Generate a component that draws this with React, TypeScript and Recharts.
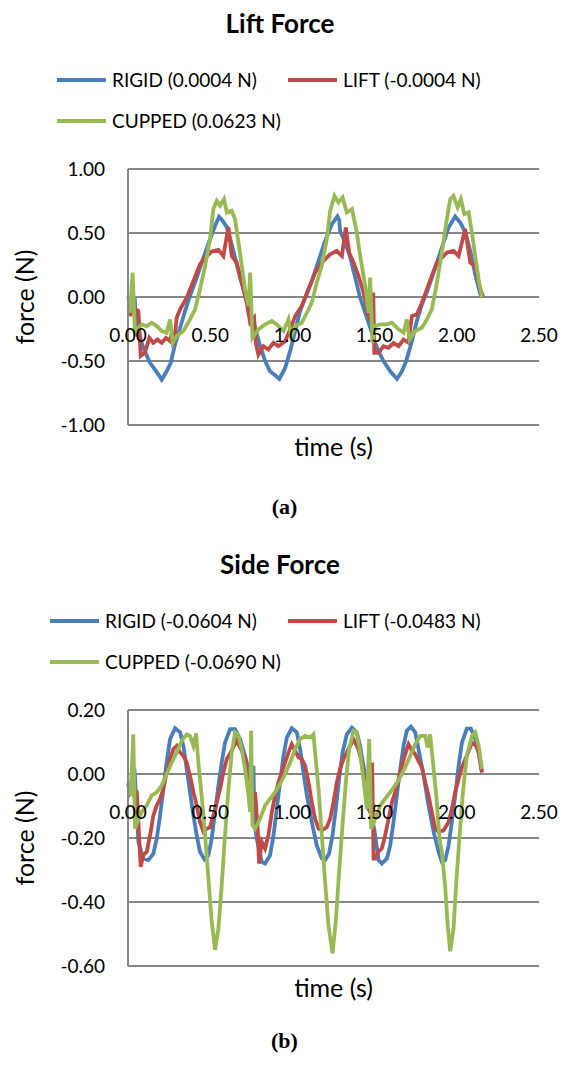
import React from 'react';
import { LineChart, Line, XAxis, YAxis, CartesianGrid, Legend } from 'recharts';

const COLORS = ['#4A7EBB', '#BE4B48', '#98B954'];
const FONT = 'Lato, "Open Sans", sans-serif';

const timeTicks = [0, 0.5, 1, 1.5, 2, 2.5];
const liftTicks = [-1, -0.5, 0, 0.5, 1];
const sideTicks = [-0.6, -0.4, -0.2, 0, 0.2];

const liftNames = ['RIGID (0.0004 N)', 'LIFT (-0.0004 N)', 'CUPPED (0.0623 N)'];
const sideNames = ['RIGID (-0.0604 N)', 'LIFT (-0.0483 N)', 'CUPPED (-0.0690 N)'];

// [time (s), force (N)]
const liftRigid = [
  [0, -0.11], [0.022, -0.084], [0.041, -0.005], [0.047, -0.162], [0.063, -0.266], [0.093, -0.397],
  [0.134, -0.514], [0.164, -0.567], [0.185, -0.606], [0.205, -0.645], [0.235, -0.58], [0.26, -0.514],
  [0.286, -0.371], [0.317, -0.24], [0.347, -0.11], [0.377, 0.008], [0.418, 0.151], [0.459, 0.308],
  [0.499, 0.452], [0.53, 0.556], [0.554, 0.627], [0.576, 0.595], [0.6, 0.548], [0.625, 0.439],
  [0.651, 0.308], [0.682, 0.151], [0.712, 0.021], [0.743, -0.11], [0.773, -0.24], [0.804, -0.384],
  [0.834, -0.501], [0.864, -0.58], [0.895, -0.611], [0.921, -0.64], [0.956, -0.554], [0.986, -0.423],
  [1.017, -0.266], [1.047, -0.11], [1.078, -0.005], [1.118, 0.125], [1.159, 0.282], [1.199, 0.439],
  [1.24, 0.569], [1.274, 0.629], [1.285, 0.6], [1.29, 0.517], [1.321, 0.426], [1.352, 0.308],
  [1.382, 0.151], [1.412, -0.005], [1.453, -0.162], [1.483, -0.279], [1.514, -0.397], [1.554, -0.501],
  [1.595, -0.58], [1.636, -0.64], [1.666, -0.58], [1.692, -0.501], [1.727, -0.345], [1.757, -0.188],
  [1.788, -0.057], [1.828, 0.073], [1.869, 0.23], [1.909, 0.386], [1.95, 0.543], [1.99, 0.629],
  [2.021, 0.582], [2.052, 0.504], [2.082, 0.36], [2.112, 0.178], [2.143, 0.021], [2.155, -0.005],
];

const liftLift = [
  [0, -0.123], [0.016, -0.136], [0.032, -0.11], [0.049, -0.097], [0.063, -0.11], [0.069, -0.24],
  [0.077, -0.46], [0.103, -0.436], [0.13, -0.319], [0.154, -0.358], [0.179, -0.332], [0.205, -0.358],
  [0.231, -0.319], [0.256, -0.345], [0.266, -0.28], [0.28, -0.37], [0.296, -0.162], [0.317, -0.097],
  [0.357, -0.005], [0.398, 0.125], [0.438, 0.256], [0.469, 0.308], [0.509, 0.355], [0.55, 0.368],
  [0.58, 0.32], [0.611, 0.548], [0.631, 0.32], [0.661, 0.269], [0.692, 0.112], [0.722, -0.044],
  [0.743, -0.2], [0.767, -0.162], [0.779, -0.37], [0.793, -0.45], [0.824, -0.384], [0.854, -0.41],
  [0.885, -0.358], [0.915, -0.384], [0.956, -0.345], [0.986, -0.253], [1.017, -0.149], [1.057, -0.07],
  [1.098, 0.06], [1.138, 0.19], [1.179, 0.269], [1.23, 0.334], [1.27, 0.36], [1.301, 0.32],
  [1.325, 0.543], [1.345, 0.347], [1.372, 0.269], [1.402, 0.165], [1.433, 0.034], [1.463, -0.149],
  [1.483, -0.188], [1.492, 0.034], [1.498, -0.436], [1.524, -0.436], [1.554, -0.384], [1.585, -0.397],
  [1.615, -0.358], [1.646, -0.384], [1.676, -0.332], [1.706, -0.358], [1.727, -0.149], [1.757, -0.136],
  [1.788, -0.044], [1.818, 0.06], [1.848, 0.165], [1.879, 0.269], [1.909, 0.308], [1.94, 0.347],
  [1.98, 0.36], [2.011, 0.32], [2.051, 0.53], [2.082, 0.269], [2.112, 0.243], [2.143, 0.06],
  [2.163, -0.005],
];

const liftCupped = [
  [0.002, 0.008], [0.012, -0.123], [0.028, 0.19], [0.043, -0.305], [0.053, -0.253], [0.083, -0.214],
  [0.114, -0.227], [0.144, -0.201], [0.175, -0.227], [0.205, -0.266], [0.235, -0.279], [0.256, -0.175],
  [0.272, -0.358], [0.296, -0.305], [0.337, -0.266], [0.377, -0.175], [0.408, -0.097], [0.438, 0.06],
  [0.469, 0.243], [0.499, 0.452], [0.519, 0.687], [0.54, 0.752], [0.56, 0.713], [0.584, 0.765],
  [0.601, 0.661], [0.631, 0.674], [0.651, 0.608], [0.672, 0.426], [0.692, 0.243], [0.712, 0.06],
  [0.733, -0.07], [0.743, 0.19], [0.757, -0.319], [0.793, -0.253], [0.834, -0.214], [0.875, -0.188],
  [0.905, -0.214], [0.946, -0.266], [0.976, -0.175], [0.992, -0.305], [1.017, -0.227], [1.057, -0.201],
  [1.088, -0.123], [1.118, -0.044], [1.148, 0.112], [1.179, 0.243], [1.209, 0.452], [1.23, 0.674],
  [1.256, 0.791], [1.28, 0.739], [1.305, 0.778], [1.331, 0.661], [1.362, 0.687], [1.392, 0.504],
  [1.412, 0.321], [1.443, 0.086], [1.463, -0.123], [1.473, 0.151], [1.487, -0.358], [1.504, -0.227],
  [1.534, -0.214], [1.575, -0.214], [1.605, -0.201], [1.646, -0.253], [1.676, -0.279], [1.696, -0.175],
  [1.713, -0.332], [1.747, -0.266], [1.788, -0.24], [1.818, -0.175], [1.848, -0.097], [1.879, 0.112],
  [1.909, 0.347], [1.936, 0.582], [1.96, 0.765], [1.98, 0.791], [2.005, 0.7], [2.025, 0.765],
  [2.045, 0.648], [2.072, 0.661], [2.092, 0.504], [2.112, 0.321], [2.133, 0.138], [2.153, -0.005],
];

const sideRigid = [
  [0, -0.026], [0.022, -0.036], [0.039, 0.016], [0.047, -0.052], [0.063, -0.212], [0.093, -0.264],
  [0.124, -0.269], [0.154, -0.249], [0.175, -0.202], [0.195, -0.13], [0.215, -0.047], [0.235, 0.036],
  [0.256, 0.109], [0.286, 0.143], [0.317, 0.13], [0.337, 0.088], [0.357, 0.016], [0.377, -0.057],
  [0.398, -0.13], [0.418, -0.192], [0.438, -0.243], [0.465, -0.267], [0.489, -0.254], [0.509, -0.202],
  [0.53, -0.119], [0.55, -0.036], [0.57, 0.036], [0.59, 0.098], [0.621, 0.14], [0.651, 0.14],
  [0.682, 0.109], [0.712, 0.057], [0.743, -0.005], [0.759, -0.041], [0.763, 0.026], [0.769, -0.15],
  [0.783, -0.202], [0.814, -0.275], [0.834, -0.28], [0.864, -0.254], [0.885, -0.192], [0.905, -0.109],
  [0.925, -0.026], [0.946, 0.057], [0.966, 0.114], [0.996, 0.143], [1.027, 0.13], [1.047, 0.078],
  [1.067, 0.005], [1.088, -0.067], [1.118, -0.15], [1.148, -0.223], [1.179, -0.264], [1.199, -0.269],
  [1.223, -0.249], [1.244, -0.192], [1.264, -0.109], [1.284, -0.016], [1.305, 0.067], [1.331, 0.124],
  [1.362, 0.145], [1.392, 0.13], [1.412, 0.088], [1.432, 0.026], [1.459, -0.057], [1.483, -0.13],
  [1.504, -0.192], [1.524, -0.269], [1.544, -0.28], [1.575, -0.264], [1.595, -0.223], [1.615, -0.15],
  [1.635, -0.067], [1.656, 0.016], [1.676, 0.088], [1.696, 0.135], [1.721, 0.148], [1.747, 0.13],
  [1.767, 0.078], [1.798, -0.005], [1.828, -0.098], [1.859, -0.181], [1.889, -0.243], [1.909, -0.275],
  [1.93, -0.269], [1.95, -0.223], [1.97, -0.15], [1.99, -0.067], [2.011, 0.026], [2.031, 0.098],
  [2.061, 0.142], [2.086, 0.142], [2.112, 0.109], [2.133, 0.067], [2.153, 0.005],
];

const sideLift = [
  [0, -0.031], [0.012, -0.057], [0.026, -0.041], [0.039, -0.073], [0.053, -0.052], [0.063, -0.15],
  [0.077, -0.29], [0.093, -0.254], [0.114, -0.243], [0.134, -0.192], [0.154, -0.13], [0.175, -0.098],
  [0.195, -0.078], [0.215, -0.047], [0.235, 0.005], [0.256, 0.047], [0.276, 0.078], [0.296, 0.088],
  [0.317, 0.067], [0.337, 0.057], [0.357, 0.036], [0.377, -0.005], [0.398, -0.057], [0.418, -0.098],
  [0.438, -0.15], [0.459, -0.181], [0.479, -0.171], [0.499, -0.166], [0.519, -0.13], [0.54, -0.088],
  [0.56, -0.047], [0.58, 0.005], [0.601, 0.047], [0.631, 0.073], [0.661, 0.104], [0.692, 0.073],
  [0.712, 0.052], [0.733, -0.026], [0.753, -0.098], [0.773, -0.057], [0.789, -0.171], [0.797, -0.28],
  [0.814, -0.212], [0.834, -0.233], [0.854, -0.192], [0.875, -0.119], [0.895, -0.067], [0.915, -0.026],
  [0.935, 0.005], [0.956, 0.036], [0.976, 0.067], [0.996, 0.093], [1.017, 0.073], [1.037, 0.052],
  [1.057, 0.047], [1.077, 0.026], [1.098, -0.026], [1.118, -0.088], [1.138, -0.14], [1.159, -0.171],
  [1.179, -0.176], [1.209, -0.166], [1.23, -0.14], [1.25, -0.088], [1.27, -0.026], [1.29, 0.016],
  [1.311, 0.047], [1.341, 0.078], [1.372, 0.109], [1.402, 0.078], [1.422, 0.036], [1.443, -0.036],
  [1.463, -0.109], [1.477, -0.124], [1.485, 0.036], [1.494, -0.264], [1.504, -0.264], [1.524, -0.243],
  [1.544, -0.233], [1.564, -0.192], [1.585, -0.14], [1.605, -0.088], [1.625, -0.057], [1.646, -0.016],
  [1.666, 0.026], [1.686, 0.062], [1.706, 0.093], [1.727, 0.073], [1.747, 0.062], [1.767, 0.041],
  [1.788, 0.021], [1.808, -0.026], [1.828, -0.067], [1.848, -0.119], [1.869, -0.171], [1.889, -0.181],
  [1.92, -0.176], [1.95, -0.15], [1.97, -0.109], [1.99, -0.057], [2.011, -0.016], [2.031, 0.021],
  [2.061, 0.057], [2.092, 0.098], [2.118, 0.088], [2.133, 0.067], [2.153, 0.005],
];

const sideCupped = [
  [0.002, -0.026], [0.016, -0.067], [0.024, 0.021], [0.032, 0.124], [0.043, -0.171], [0.057, -0.15],
  [0.083, -0.119], [0.114, -0.098], [0.144, -0.067], [0.175, -0.057], [0.205, -0.036], [0.235, 0],
  [0.266, 0.036], [0.296, 0.067], [0.327, 0.104], [0.357, 0.124], [0.377, 0.119], [0.398, 0.088],
  [0.414, 0.127], [0.428, 0.036], [0.448, -0.067], [0.469, -0.192], [0.489, -0.326], [0.509, -0.461],
  [0.53, -0.549], [0.55, -0.482], [0.57, -0.347], [0.59, -0.192], [0.611, -0.047], [0.631, 0.067],
  [0.651, 0.13], [0.672, 0.119], [0.692, 0.078], [0.712, 0.016], [0.733, -0.067], [0.743, -0.119],
  [0.749, 0.135], [0.757, -0.16], [0.773, -0.171], [0.803, -0.14], [0.834, -0.098], [0.864, -0.078],
  [0.895, -0.057], [0.925, -0.031], [0.956, 0], [0.986, 0.036], [1.017, 0.078], [1.047, 0.109],
  [1.077, 0.119], [1.108, 0.114], [1.128, 0.124], [1.138, 0.067], [1.159, -0.047], [1.179, -0.192],
  [1.199, -0.337], [1.219, -0.471], [1.244, -0.56], [1.264, -0.461], [1.284, -0.306], [1.305, -0.16],
  [1.325, -0.026], [1.345, 0.078], [1.372, 0.135], [1.392, 0.13], [1.412, 0.067], [1.432, -0.016],
  [1.453, -0.109], [1.467, 0.109], [1.479, -0.171], [1.504, -0.14], [1.534, -0.098], [1.564, -0.078],
  [1.595, -0.057], [1.625, -0.036], [1.656, -0.01], [1.686, 0.021], [1.717, 0.057], [1.747, 0.093],
  [1.777, 0.119], [1.808, 0.119], [1.822, 0.083], [1.838, 0.124], [1.855, 0.036], [1.875, -0.067],
  [1.895, -0.202], [1.909, -0.243], [1.93, -0.357], [1.946, -0.482], [1.96, -0.554], [1.98, -0.482],
  [1.997, -0.337], [2.017, -0.192], [2.037, -0.057], [2.061, 0.057], [2.092, 0.119], [2.112, 0.13],
  [2.133, 0.088], [2.153, 0.016],
];

const toPoints = (arr: number[][]) => arr.map(([t, v]) => ({ t, v }));

const CHART_W = 569;
const CHART_H = 480;
const PLOT_TOP = 169;
const PLOT_H = 256;
const Y_AXIS_W = 128;
const X_AXIS_H = CHART_H - PLOT_TOP - PLOT_H;

const LegendBox = ({ payload, left, names }: any) => {
  // keep the series order (Recharts sorts the payload by name)
  const items = [...(payload || [])].sort((a: any, b: any) => names.indexOf(a.value) - names.indexOf(b.value));
  return (
    <div style={{ position: 'relative', width: CHART_W, height: 140, fontFamily: FONT }}>
      {items.map((item: any, i: number) => (
        <div
          key={item.value}
          style={{
            position: 'absolute',
            left: i % 2 === 0 ? left : 288,
            top: 80 + Math.floor(i / 2) * 41 - 12,
            height: 24,
            display: 'flex',
            alignItems: 'center',
            whiteSpace: 'nowrap',
          }}
        >
          <span style={{ display: 'inline-block', width: 49, height: 3.5, background: item.color }} />
          <span style={{ marginLeft: 6, fontSize: 19, lineHeight: '24px', color: '#000' }}>{item.value}</span>
        </div>
      ))}
    </div>
  );
};

const ForceChart = ({ top, title, names, series, domain, ticks, legendLeft }: any) => {
  // distance of the zero line above the plot bottom, where Excel put the time labels
  const zeroUp = (PLOT_H * (0 - domain[0])) / (domain[1] - domain[0]);
  return (
    <div style={{ position: 'absolute', top, left: 0, width: CHART_W, height: CHART_H }}>
      <div
        style={{
          position: 'absolute',
          top: 10,
          left: 0,
          width: 560,
          textAlign: 'center',
          fontFamily: FONT,
          fontWeight: 700,
          fontSize: 26,
          lineHeight: '26px',
          color: '#000',
        }}
      >
        {title}
      </div>
      <LineChart width={CHART_W} height={CHART_H} margin={{ top: PLOT_TOP, right: 30, bottom: 0, left: 0 }}>
        <CartesianGrid vertical={false} stroke="#868686" strokeWidth={2} />
        <XAxis
          type="number"
          dataKey="t"
          domain={[0, 2.5]}
          ticks={timeTicks}
          interval={0}
          height={X_AXIS_H}
          axisLine={false}
          tickLine={false}
          tickSize={0}
          tickMargin={0}
          tick={(p: any) => (
            <text
              x={p.x}
              y={p.y - zeroUp + 38}
              dy="0.36em"
              textAnchor="middle"
              fontSize={19}
              fontFamily={FONT}
              fill="#000"
            >
              {Number(p.payload.value).toFixed(2)}
            </text>
          )}
          label={{ value: 'time (s)', position: 'insideTop', offset: 13, fontSize: 25, fontFamily: FONT, fill: '#000' }}
        />
        <YAxis
          type="number"
          domain={domain}
          ticks={ticks}
          interval={0}
          width={Y_AXIS_W}
          axisLine={{ stroke: '#868686', strokeWidth: 2 }}
          tickLine={false}
          tickSize={0}
          tickMargin={23}
          tick={{ fontSize: 19, fontFamily: FONT, fill: '#000' }}
          tickFormatter={(v: number) => v.toFixed(2)}
          label={{
            value: 'force (N)',
            angle: -90,
            position: 'insideLeft',
            offset: 25,
            fontSize: 25,
            fontFamily: FONT,
            fill: '#000',
            style: { textAnchor: 'middle' },
          }}
        />
        <Legend
          verticalAlign="middle"
          layout="horizontal"
          align="center"
          wrapperStyle={{ top: 0, left: 0, width: CHART_W, height: 140 }}
          content={(props: any) => <LegendBox payload={props.payload} left={legendLeft} names={names} />}
        />
        {series.map((s: number[][], i: number) => (
          <Line
            key={names[i]}
            data={toPoints(s)}
            dataKey="v"
            name={names[i]}
            type="linear"
            stroke={COLORS[i]}
            strokeWidth={3.8}
            dot={false}
            activeDot={false}
            isAnimationActive={false}
          />
        ))}
      </LineChart>
    </div>
  );
};

const Caption = ({ top, children }: any) => (
  <div
    style={{
      position: 'absolute',
      top,
      left: 0,
      width: CHART_W,
      textAlign: 'center',
      fontFamily: '"Liberation Serif", "Times New Roman", serif',
      fontWeight: 700,
      fontSize: 22,
      lineHeight: '22px',
      color: '#000',
    }}
  >
    {children}
  </div>
);

export default function App() {
  return (
    <div style={{ position: 'absolute', top: 0, left: 0, width: 569, height: 1067, background: '#fff' }}>
      <ForceChart
        top={0}
        title="Lift Force"
        names={liftNames}
        series={[liftRigid, liftLift, liftCupped]}
        domain={[-1, 1]}
        ticks={liftTicks}
        legendLeft={57}
      />
      <Caption top={496}>(a)</Caption>
      <ForceChart
        top={541}
        title="Side Force"
        names={sideNames}
        series={[sideRigid, sideLift, sideCupped]}
        domain={[-0.6, 0.2]}
        ticks={sideTicks}
        legendLeft={50}
      />
      <Caption top={1030}>(b)</Caption>
    </div>
  );
}
